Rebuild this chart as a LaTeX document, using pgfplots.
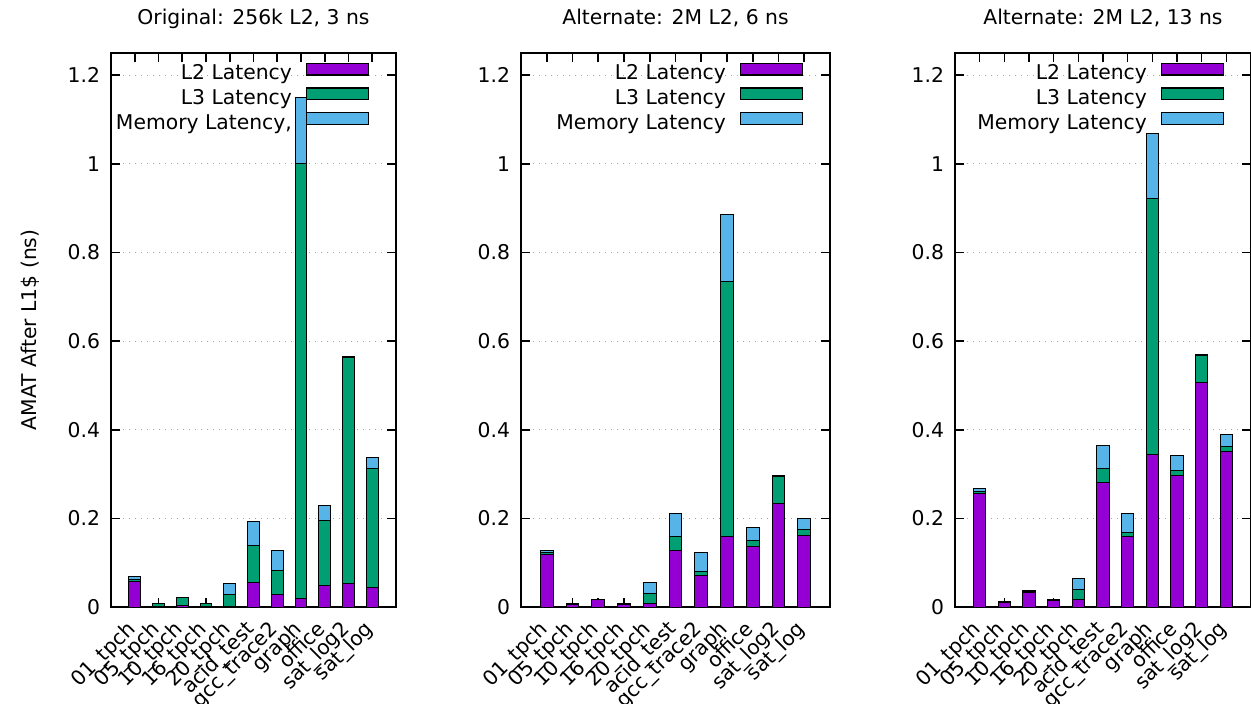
\documentclass[border=0pt]{standalone}
\usepackage{pgfplots}
\pgfplotsset{compat=1.18}
\usepackage{fontspec}
\setmainfont{DejaVu Sans}
\definecolor{cL2}{HTML}{9400D3}
\definecolor{cL3}{HTML}{009E73}
\definecolor{cMem}{HTML}{56B4E9}
\newcommand{\fs}{\fontsize{10.2}{12}\selectfont}
\pgfplotsset{
  panel/.style={
    scale only axis, height=277bp,
    ymin=0, ymax=1.25, xmin=-1, xmax=11,
    ybar stacked, bar width=0.5,
    xtick={0,...,10},
    xticklabels={01\_tpch,05\_tpch,10\_tpch,16\_tpch,20\_tpch,acid\_test,gcc\_trace2,graph,office,sat\_log2,sat\_log},
    ytick={0,0.2,0.4,0.6,0.8,1,1.2},
    ymajorgrids,
    major grid style={gray!70, line width=0.5bp, dash pattern=on 0.6bp off 2.4bp},
    major tick length=4.5bp,
    axis line style={line width=0.9bp},
    every tick/.style={black, line width=0.8bp},
    tick label style={font=\fs},
    /pgf/number format/assume math mode=true,
    xticklabel style={xshift=1bp, yshift=-11.5bp, rotate=45, anchor=base east, inner sep=0pt},
    yticklabel style={xshift=-2bp},
    title style={at={(0.5,1)}, anchor=base, yshift=8.25bp, font=\fs},
    legend plot pos=right,
    legend cell align=right,
    legend style={at={(1,1)}, anchor=north east, xshift=-13.5bp, yshift=-4.9bp,
      draw=none, fill=none, inner sep=0pt, outer sep=0pt, column sep=0pt, row sep=0pt,
      font=\fs, nodes={inner sep=0pt, text height=8bp, text depth=3.75bp}},
    legend image code/.code={\path (0bp,0bp); \draw[##1, line width=0.6bp] (7bp,0.35bp) rectangle (38bp,6.15bp);},
  },
  barL2/.style={fill=cL2, draw=black, line width=0.5bp},
  barL3/.style={fill=cL3, draw=black, line width=0.5bp},
  barMem/.style={fill=cMem, draw=black, line width=0.5bp},
}
\begin{document}
\begin{tikzpicture}
\path[use as bounding box] (0,0) rectangle (625.5bp,352bp);
% Panel 1
\begin{axis}[panel, at={(55.5bp,48.5bp)}, anchor=south west, width=142.5bp,
  title={Original: 256k L2, 3 ns},
  ylabel={AMAT After L1\$ (ns)},
  ylabel style={at={(axis description cs:-0.284,0.5)}, anchor=center, font=\fs}]
\addplot[barL2] coordinates {(0,0.057) (1,0.001) (2,0.004) (3,0.001) (4,0.002) (5,0.056) (6,0.029) (7,0.020) (8,0.048) (9,0.052) (10,0.043)};
\addplot[barL3] coordinates {(0,0.004) (1,0.007) (2,0.017) (3,0.006) (4,0.027) (5,0.083) (6,0.053) (7,0.980) (8,0.148) (9,0.510) (10,0.269)};
\addplot[barMem] coordinates {(0,0.008) (1,0.001) (2,0.001) (3,0.001) (4,0.025) (5,0.053) (6,0.045) (7,0.150) (8,0.032) (9,0.003) (10,0.026)};
\legend{L2 Latency, L3 Latency, {Memory Latency,}}
\end{axis}
% Panel 2
\begin{axis}[panel, at={(260.5bp,48.5bp)}, anchor=south west, width=154.5bp,
  title={Alternate: 2M L2, 6 ns}]
\addplot[barL2] coordinates {(0,0.118) (1,0.005) (2,0.016) (3,0.006) (4,0.007) (5,0.128) (6,0.072) (7,0.159) (8,0.136) (9,0.233) (10,0.161)};
\addplot[barL3] coordinates {(0,0.004) (1,0.001) (2,0.001) (3,0.001) (4,0.023) (5,0.032) (6,0.008) (7,0.575) (8,0.013) (9,0.062) (10,0.013)};
\addplot[barMem] coordinates {(0,0.006) (1,0.001) (2,0.001) (3,0.001) (4,0.025) (5,0.052) (6,0.044) (7,0.152) (8,0.031) (9,0.002) (10,0.025)};
\legend{L2 Latency, L3 Latency, Memory Latency}
\end{axis}
% Panel 3
\begin{axis}[panel, at={(477.5bp,48.5bp)}, anchor=south west, width=148bp,
  title={Alternate: 2M L2, 13 ns}]
\addplot[barL2] coordinates {(0,0.257) (1,0.010) (2,0.033) (3,0.015) (4,0.016) (5,0.281) (6,0.159) (7,0.345) (8,0.296) (9,0.507) (10,0.350)};
\addplot[barL3] coordinates {(0,0.004) (1,0.001) (2,0.003) (3,0.001) (4,0.023) (5,0.031) (6,0.008) (7,0.577) (8,0.012) (9,0.060) (10,0.013)};
\addplot[barMem] coordinates {(0,0.007) (1,0.001) (2,0.001) (3,0.001) (4,0.025) (5,0.053) (6,0.044) (7,0.147) (8,0.033) (9,0.002) (10,0.026)};
\legend{L2 Latency, L3 Latency, Memory Latency}
\end{axis}
\end{tikzpicture}
\end{document}
